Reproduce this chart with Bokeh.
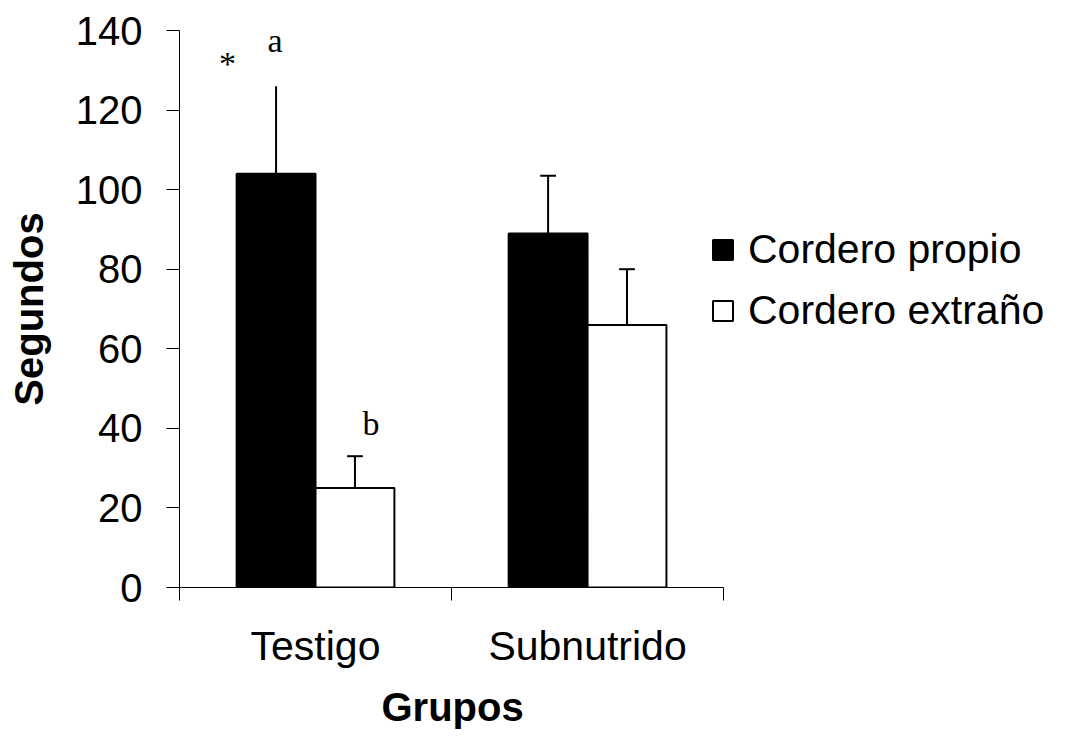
import numpy as np
from bokeh.plotting import figure
from bokeh.models import ColumnDataSource, FixedTicker, Range1d, Legend, LegendItem, Title
from bokeh.core.properties import value
from bokeh.embed import file_html
from bokeh.resources import INLINE

# ---- data ----
groups = ["Testigo", "Subnutrido"]
propio = [104, 89]
propio_err = [22, 14.5]
propio_cap = [False, True]
extrano = [25, 66]
extrano_err = [8, 14]
extrano_cap = [True, True]
y_ticks = [0, 20, 40, 60, 80, 100, 120, 140]
sig_labels = ["*", "a", "b"]
sig_x = [0.176, 0.351, 0.704]
sig_y = [131.6, 137.4, 41.3]

FONT = "Liberation Sans"
TICK_FS = "40px"
XFS = "41px"

idx = np.arange(len(groups))
bar_w = 0.29
x_prop = idx + 0.5 - bar_w / 2
x_ext = idx + 0.5 + bar_w / 2

# frame extends to the right edge (room for the legend); the x axis line stops at 2 groups
p = figure(width=1065, height=742, x_range=Range1d(0, 3.257), y_range=Range1d(0, 140),
           output_backend="svg", toolbar_location=None,
           min_border_left=179, min_border_right=0, min_border_top=30, min_border_bottom=155)
p.outline_line_color = None
p.xgrid.grid_line_color = None
p.ygrid.grid_line_color = None
p.background_fill_color = "white"
p.border_fill_color = "white"

src_p = ColumnDataSource(dict(x=x_prop, top=propio))
src_e = ColumnDataSource(dict(x=x_ext, top=extrano))
r1 = p.vbar(x="x", top="top", width=bar_w, bottom=0, source=src_p,
            fill_color="black", line_color="black", line_width=2)
r2 = p.vbar(x="x", top="top", width=bar_w, bottom=0, source=src_e,
            fill_color="white", line_color="black", line_width=2)

# error bars
ex = list(x_prop) + list(x_ext)
ev = propio + extrano
ee = propio_err + extrano_err
ec = propio_cap + extrano_cap
up = [v + e for v, e in zip(ev, ee)]
p.segment(x0=ex, y0=ev, x1=ex, y1=up, line_color="black", line_width=2)
cap_w = 0.058
cx = [x for x, c in zip(ex, ec) if c]
cy = [u for u, c in zip(up, ec) if c]
p.segment(x0=[x - cap_w / 2 for x in cx], y0=cy, x1=[x + cap_w / 2 for x in cx], y1=cy,
          line_color="black", line_width=2)

# significance letters
p.text(x=sig_x, y=sig_y, text=sig_labels, text_font=value("Liberation Serif"),
       text_font_size="34px", text_align="center", text_baseline="alphabetic",
       text_color="black")

# axes
ya = p.yaxis[0]
ya.ticker = FixedTicker(ticks=y_ticks)
ya.minor_tick_line_color = None
ya.major_tick_in = 0
ya.major_tick_out = 13
ya.major_tick_line_color = "black"
ya.axis_line_color = "black"
ya.major_label_text_font = FONT
ya.major_label_text_font_size = TICK_FS
ya.major_label_text_color = "black"
ya.major_label_standoff = 24
ya.axis_label = "Segundos"
ya.axis_label_text_font = FONT
ya.axis_label_text_font_size = TICK_FS
ya.axis_label_text_font_style = "bold"
ya.axis_label_text_color = "black"
ya.axis_label_standoff = 22

xa = p.xaxis[0]
xa.bounds = (0, len(groups))
xa.ticker = FixedTicker(ticks=[0.5, 1.5], minor_ticks=[0, 1, 2])
xa.major_label_overrides = {0.5: groups[0], 1.5: groups[1]}
xa.major_tick_line_color = None
xa.major_tick_in = 0
xa.major_tick_out = 13
xa.minor_tick_in = 0
xa.minor_tick_out = 13
xa.minor_tick_line_color = "black"
xa.axis_line_color = "black"
xa.major_label_text_font = FONT
xa.major_label_text_font_size = XFS
xa.major_label_text_color = "black"
xa.major_label_standoff = 22

# x-axis title, centred under the two groups
p.add_layout(Title(text="Grupos", align="left", offset=202, standoff=22,
                   text_font=FONT, text_font_size=TICK_FS, text_font_style="bold",
                   text_color="black"), "below")

legend = Legend(items=[LegendItem(label="Cordero propio", renderers=[r1]),
                       LegendItem(label="Cordero extraño", renderers=[r2])],
                location=(531, 253), border_line_color=None, background_fill_alpha=0,
                label_text_font=FONT, label_text_font_size=XFS, label_text_color="black",
                glyph_width=25, glyph_height=25, label_standoff=13, spacing=14,
                padding=0, margin=0)
p.add_layout(legend)

open("out.html", "w").write(file_html(p, INLINE))
